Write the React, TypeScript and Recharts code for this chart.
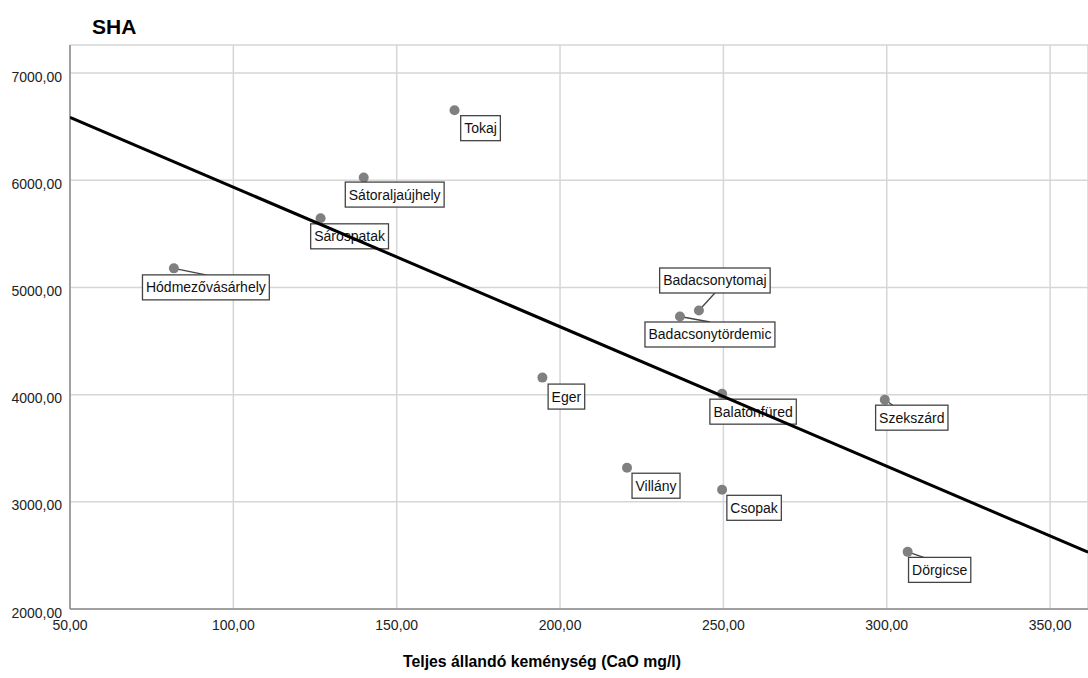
import { CartesianGrid, Scatter, ScatterChart, XAxis, YAxis } from "recharts";

const towns = [
  "Tokaj",
  "Sátoraljaújhely",
  "Sárospatak",
  "Hódmezővásárhely",
  "Badacsonytomaj",
  "Badacsonytördemic",
  "Eger",
  "Balatonfüred",
  "Szekszárd",
  "Villány",
  "Csopak",
  "Dörgicse",
];
const hardness = [167.7, 139.9, 126.7, 81.8, 242.5, 236.7, 194.6, 249.6, 299.4, 220.5, 249.6, 306.4];
const sha = [6654, 6025, 5645, 5178, 4785, 4729, 4159, 4009, 3953, 3318, 3112, 2533];

const xTicks = [50, 100, 150, 200, 250, 300, 350];
const yTicks = [2000, 3000, 4000, 5000, 6000, 7000];
const xDomain: [number, number] = [50, 361.6];
const yDomain: [number, number] = [2000, 7262];

// label box centre offset from its point (px), and where the leader line hits the box (null = no leader)
const labelOffsets: [number, number, number | null][] = [
  [26, 18, null],
  [31, 17, -28],
  [29, 18, null],
  [32, 19, 0],
  [16, -30, 0],
  [30, 18, 0],
  [24, 19, null],
  [31, 18, null],
  [27, 18, -19],
  [29, 18, null],
  [32, 18, null],
  [32, 18, -16],
];

const FONT = "'Liberation Sans', Arial, sans-serif";

const points = towns.map((name, idx) => ({ name, idx, x: hardness[idx], y: sha[idx] }));

// least squares fit line
const n = hardness.length;
const mx = hardness.reduce((a, b) => a + b, 0) / n;
const my = sha.reduce((a, b) => a + b, 0) / n;
let sxy = 0;
let sxx = 0;
for (let i = 0; i < n; i++) {
  sxy += (hardness[i] - mx) * (sha[i] - my);
  sxx += (hardness[i] - mx) ** 2;
}
const slope = sxy / sxx;
const fitLine = xDomain.map((x) => ({ x, y: my + slope * (x - mx) }));

const fmt = (v: number) => v.toFixed(2).replace(".", ",");

let ctx: CanvasRenderingContext2D | null = null;
function textWidth(s: string) {
  if (!ctx) ctx = document.createElement("canvas").getContext("2d");
  if (!ctx) return s.length * 7.5;
  ctx.font = `14px ${FONT}`;
  return ctx.measureText(s).width;
}

const TownPoint = (props: any) => {
  const { cx, cy, payload } = props;
  const [dx, dy, ax] = labelOffsets[payload.idx];
  const w = textWidth(payload.name) + 7;
  const h = 25;
  const bx = cx + dx;
  const by = cy + dy;
  const edgeY = dy > 0 ? by - h / 2 : by + h / 2;
  return (
    <g>
      {ax !== null && (
        <line x1={cx} y1={cy} x2={bx + ax} y2={edgeY} stroke="#444" strokeWidth={1.3} />
      )}
      <circle cx={cx} cy={cy} r={5} fill="#808080" />
      <rect x={bx - w / 2} y={by - h / 2} width={w} height={h} fill="#fff" stroke="#444" strokeWidth={1.3} />
      <text x={bx} y={by + 5} textAnchor="middle" fontSize={14} fontFamily={FONT} fill="#111">
        {payload.name}
      </text>
    </g>
  );
};

const XTick = ({ x, y, payload }: any) => (
  <text x={x} y={y} dy={21} textAnchor="middle" fontSize={14} fontFamily={FONT} fill="#222">
    {fmt(payload.value)}
  </text>
);

const YTick = ({ x, y, payload }: any) => (
  <text x={x} y={y} dy={8.5} textAnchor="end" fontSize={14} fontFamily={FONT} fill="#222">
    {fmt(payload.value)}
  </text>
);

export default function App() {
  return (
    <div style={{ position: "absolute", left: 0, top: 0, width: 1088, height: 678, background: "#fff" }}>
      <ScatterChart width={1088} height={678} margin={{ top: 45, right: 0, bottom: 39, left: 0 }}>
        <CartesianGrid stroke="#d6d6d6" strokeWidth={1.5} />
        <XAxis
          type="number"
          dataKey="x"
          domain={xDomain}
          ticks={xTicks}
          allowDataOverflow
          height={30}
          tickSize={0}
          tickMargin={0}
          tick={<XTick />}
          axisLine={{ stroke: "#8c8c8c", strokeWidth: 1.5 }}
          tickLine={false}
        />
        <YAxis
          type="number"
          dataKey="y"
          domain={yDomain}
          ticks={yTicks}
          allowDataOverflow
          width={70}
          tickSize={0}
          tickMargin={8}
          tick={<YTick />}
          axisLine={{ stroke: "#8c8c8c", strokeWidth: 1.5 }}
          tickLine={false}
        />
        <Scatter data={points} shape={<TownPoint />} isAnimationActive={false} />
        <Scatter
          data={fitLine}
          line={{ stroke: "#000", strokeWidth: 3 }}
          shape={() => <g />}
          isAnimationActive={false}
        />
      </ScatterChart>
      <svg width={1088} height={678} style={{ position: "absolute", left: 0, top: 0, pointerEvents: "none" }}>
        <text x={92} y={34} fontSize={21} fontWeight="bold" fontFamily={FONT} fill="#000">
          SHA
        </text>
        <text x={403} y={667} fontSize={15.8} fontWeight="bold" fontFamily={FONT} fill="#000">
          Teljes állandó keménység (CaO mg/l)
        </text>
      </svg>
    </div>
  );
}
